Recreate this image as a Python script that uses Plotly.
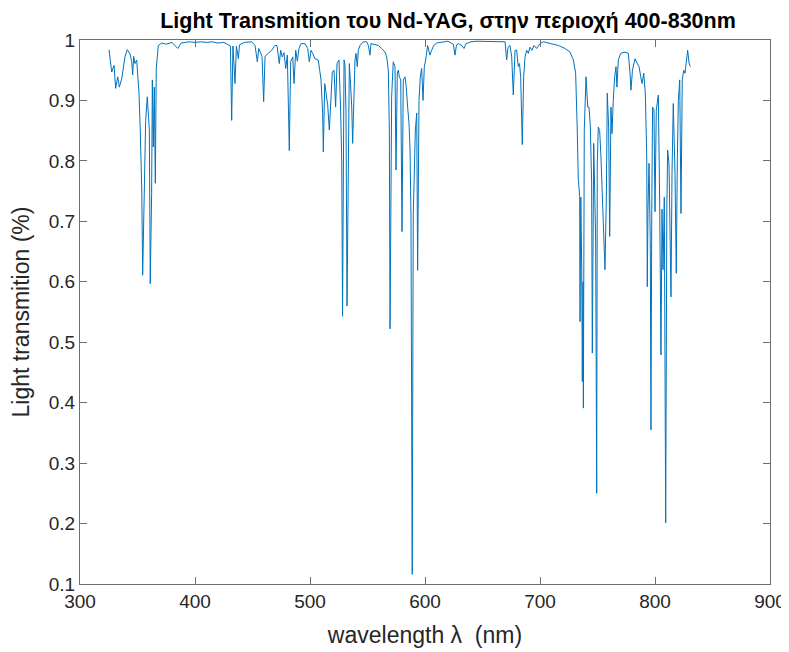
import plotly.graph_objects as go

wavelength_nm = [
    325.2, 327.6, 329.6, 331.0, 332.8, 334.2, 336.3, 339.1, 341.1, 343.5,
    345.0, 345.8, 346.7, 347.8, 349.3, 350.2, 351.3, 352.4, 353.7, 354.5,
    355.4, 356.3, 357.1, 358.5, 359.4, 360.3, 361.1, 362.3, 362.9, 363.7,
    364.6, 365.5, 366.3, 367.2, 368.1, 371.0, 375.0, 380.0, 385.0, 388.0,
    395.0, 400.0, 405.0, 410.0, 415.0, 420.0, 425.0, 428.0, 430.8, 431.9,
    433.0, 434.8, 436.0, 437.7, 438.7, 443.0, 449.3, 452.2, 454.2, 455.4,
    458.3, 459.7, 460.9, 463.7, 466.7, 469.6, 471.3, 473.3, 474.5, 475.9,
    477.4, 478.9, 480.3, 482.0, 483.2, 485.0, 486.1, 487.6, 489.0, 490.4,
    492.2, 495.7, 498.0, 499.4, 500.9, 502.3, 504.3, 507.2, 509.6, 511.0,
    511.6, 512.8, 513.9, 515.4, 516.8, 518.3, 519.4, 520.9, 522.3, 523.5,
    525.2, 526.7, 527.6, 528.3, 529.6, 530.4, 531.3, 532.2, 533.3, 534.2,
    535.4, 536.3, 537.1, 538.0, 539.1, 540.0, 541.1, 542.0, 543.5, 546.3,
    549.3, 550.7, 552.2, 553.0, 556.5, 559.4, 562.3, 565.2, 566.7, 568.1,
    569.0, 569.6, 571.0, 572.4, 573.9, 574.8, 575.9, 576.8, 577.7, 578.9,
    580.0, 581.1, 582.6, 583.7, 584.9, 586.1, 587.0, 587.8, 588.9, 589.8,
    590.7, 591.6, 592.8, 593.6, 594.8, 595.9, 597.1, 598.3, 599.4, 600.6,
    602.3, 604.3, 605.8, 607.6, 610.2, 615.0, 620.0, 624.6, 626.1, 627.4,
    629.0, 631.9, 633.9, 635.7, 640.0, 645.0, 650.0, 655.0, 660.0, 665.0,
    669.6, 671.0, 672.2, 673.9, 675.4, 676.8, 678.3, 679.7, 681.1, 682.2,
    683.2, 684.6, 685.8, 687.0, 688.4, 689.8, 691.3, 693.0, 694.8, 697.1,
    700.0, 702.9, 710.2, 715.9, 721.7, 726.1, 729.0, 731.0, 732.4, 733.3,
    734.5, 734.8, 735.5, 736.3, 736.8, 737.4, 737.7, 738.5, 740.0, 741.5,
    742.6, 743.7, 744.9, 745.5, 746.7, 747.2, 748.4, 749.3, 749.8, 750.7,
    751.9, 753.0, 754.2, 755.4, 756.5, 757.7, 758.5, 759.7, 760.6, 761.7,
    762.6, 763.7, 764.9, 766.1, 766.9, 768.1, 770.2, 773.9, 776.8, 778.3,
    779.1, 780.4, 782.6, 784.3, 786.1, 787.6, 788.7, 790.2, 791.6, 792.8,
    793.3, 793.9, 794.8, 795.9, 796.5, 797.2, 797.9, 799.1, 800.0, 801.1,
    802.9, 804.1, 805.2, 806.1, 807.0, 808.1, 809.3, 810.3, 811.0, 812.2,
    813.0, 813.9, 814.8, 815.9, 817.4, 818.5, 819.4, 820.3, 821.5, 822.6,
    823.7, 825.0, 826.1, 827.2, 828.4, 829.6, 830.7,
]

transmission = [
    0.984, 0.947, 0.958, 0.920, 0.939, 0.922, 0.936, 0.972, 0.984, 0.977,
    0.964, 0.942, 0.973, 0.961, 0.967, 0.936, 0.912, 0.851, 0.752, 0.611,
    0.708, 0.807, 0.867, 0.906, 0.884, 0.851, 0.597, 0.746, 0.934, 0.823,
    0.922, 0.763, 0.953, 0.972, 0.991, 0.995, 0.993, 0.996, 0.986, 0.995,
    0.997, 0.996, 0.997, 0.996, 0.997, 0.995, 0.996, 0.993, 0.990, 0.867,
    0.990, 0.928, 0.990, 0.969, 0.992, 0.996, 0.997, 0.991, 0.964, 0.986,
    0.973, 0.898, 0.973, 0.978, 0.983, 0.991, 0.991, 0.961, 0.983, 0.972,
    0.979, 0.953, 0.975, 0.817, 0.964, 0.972, 0.928, 0.983, 0.965, 0.986,
    0.994, 0.994, 0.986, 0.964, 0.983, 0.978, 0.969, 0.967, 0.934, 0.879,
    0.815, 0.928, 0.912, 0.892, 0.851, 0.917, 0.947, 0.950, 0.889, 0.961,
    0.967, 0.879, 0.800, 0.543, 0.967, 0.960, 0.879, 0.560, 0.823, 0.961,
    0.922, 0.889, 0.829, 0.900, 0.967, 0.978, 0.956, 0.983, 0.991, 0.997,
    0.997, 0.991, 0.975, 0.994, 0.992, 0.991, 0.986, 0.980, 0.972, 0.950,
    0.851, 0.522, 0.906, 0.964, 0.956, 0.785, 0.945, 0.950, 0.939, 0.934,
    0.683, 0.934, 0.939, 0.922, 0.889, 0.862, 0.818, 0.708, 0.116, 0.713,
    0.779, 0.851, 0.879, 0.619, 0.900, 0.939, 0.953, 0.900, 0.955, 0.967,
    0.991, 0.975, 0.983, 0.991, 0.995, 0.997, 0.998, 0.993, 0.975, 0.992,
    0.994, 0.991, 0.986, 0.994, 0.997, 0.998, 0.998, 0.997, 0.998, 0.997,
    0.997, 0.967, 0.988, 0.991, 0.972, 0.909, 0.983, 0.983, 0.956, 0.961,
    0.939, 0.827, 0.939, 0.972, 0.983, 0.978, 0.988, 0.983, 0.991, 0.986,
    0.994, 0.997, 0.994, 0.991, 0.986, 0.980, 0.967, 0.945, 0.851, 0.770,
    0.741, 0.534, 0.740, 0.620, 0.435, 0.600, 0.391, 0.851, 0.939, 0.889,
    0.889, 0.860, 0.765, 0.482, 0.829, 0.790, 0.669, 0.250, 0.796, 0.856,
    0.850, 0.807, 0.735, 0.669, 0.620, 0.741, 0.912, 0.856, 0.675, 0.889,
    0.845, 0.900, 0.939, 0.956, 0.922, 0.967, 0.978, 0.980, 0.978, 0.945,
    0.917, 0.950, 0.969, 0.962, 0.956, 0.939, 0.928, 0.945, 0.912, 0.807,
    0.592, 0.720, 0.796, 0.670, 0.355, 0.720, 0.889, 0.884, 0.716, 0.884,
    0.909, 0.725, 0.479, 0.720, 0.620, 0.740, 0.201, 0.720, 0.818, 0.795,
    0.700, 0.575, 0.780, 0.895, 0.779, 0.614, 0.800, 0.900, 0.934, 0.713,
    0.934, 0.950, 0.945, 0.967, 0.983, 0.962, 0.956,
]

x_ticks = [300, 400, 500, 600, 700, 800, 900]
y_ticks = [0.1, 0.2, 0.3, 0.4, 0.5, 0.6, 0.7, 0.8, 0.9, 1.0]
y_tick_labels = ["0.1", "0.2", "0.3", "0.4", "0.5", "0.6", "0.7", "0.8", "0.9", "1"]

font_family = "Liberation Sans, Arial, sans-serif"
text_color = "#262626"
axis_color = "#6e6e6e"

# The page body adds an 8px margin, so the figure is drawn 8px smaller
W, H = 781, 644

fig = go.Figure()
fig.add_trace(go.Scatter(
    x=wavelength_nm, y=transmission, mode="lines",
    line=dict(color="#0072BD", width=1),
    showlegend=False,
))

axis_common = dict(
    showline=True, linecolor=axis_color, linewidth=1, mirror="ticks",
    ticks="inside", ticklen=7, tickcolor=axis_color, tickwidth=1,
    showgrid=False, zeroline=False, automargin=False,
    tickfont=dict(family=font_family, size=19, color=text_color),
)

fig.update_layout(
    width=W, height=H,
    margin=dict(l=72, r=19, t=32, b=68),
    paper_bgcolor="white", plot_bgcolor="white",
    title=dict(
        text="<b>Light Transmition του Nd-YAG, στην περιοχή 400-830nm</b>",
        x=440 / W, xanchor="center", y=1 - 12 / H, yanchor="middle",
        font=dict(family=font_family, size=21.5, color="#000000"),
    ),
    xaxis=dict(
        range=[300, 900], tickvals=x_ticks,
        title=dict(text="wavelength λ  (nm)", standoff=16,
                   font=dict(family=font_family, size=23, color=text_color)),
        **axis_common,
    ),
    yaxis=dict(
        range=[0.1, 1.0], tickvals=y_ticks, ticktext=y_tick_labels,
        title=dict(text="Light transmition (%)", standoff=12,
                   font=dict(family=font_family, size=23, color=text_color)),
        **axis_common,
    ),
)

fig.write_html("out.html")
